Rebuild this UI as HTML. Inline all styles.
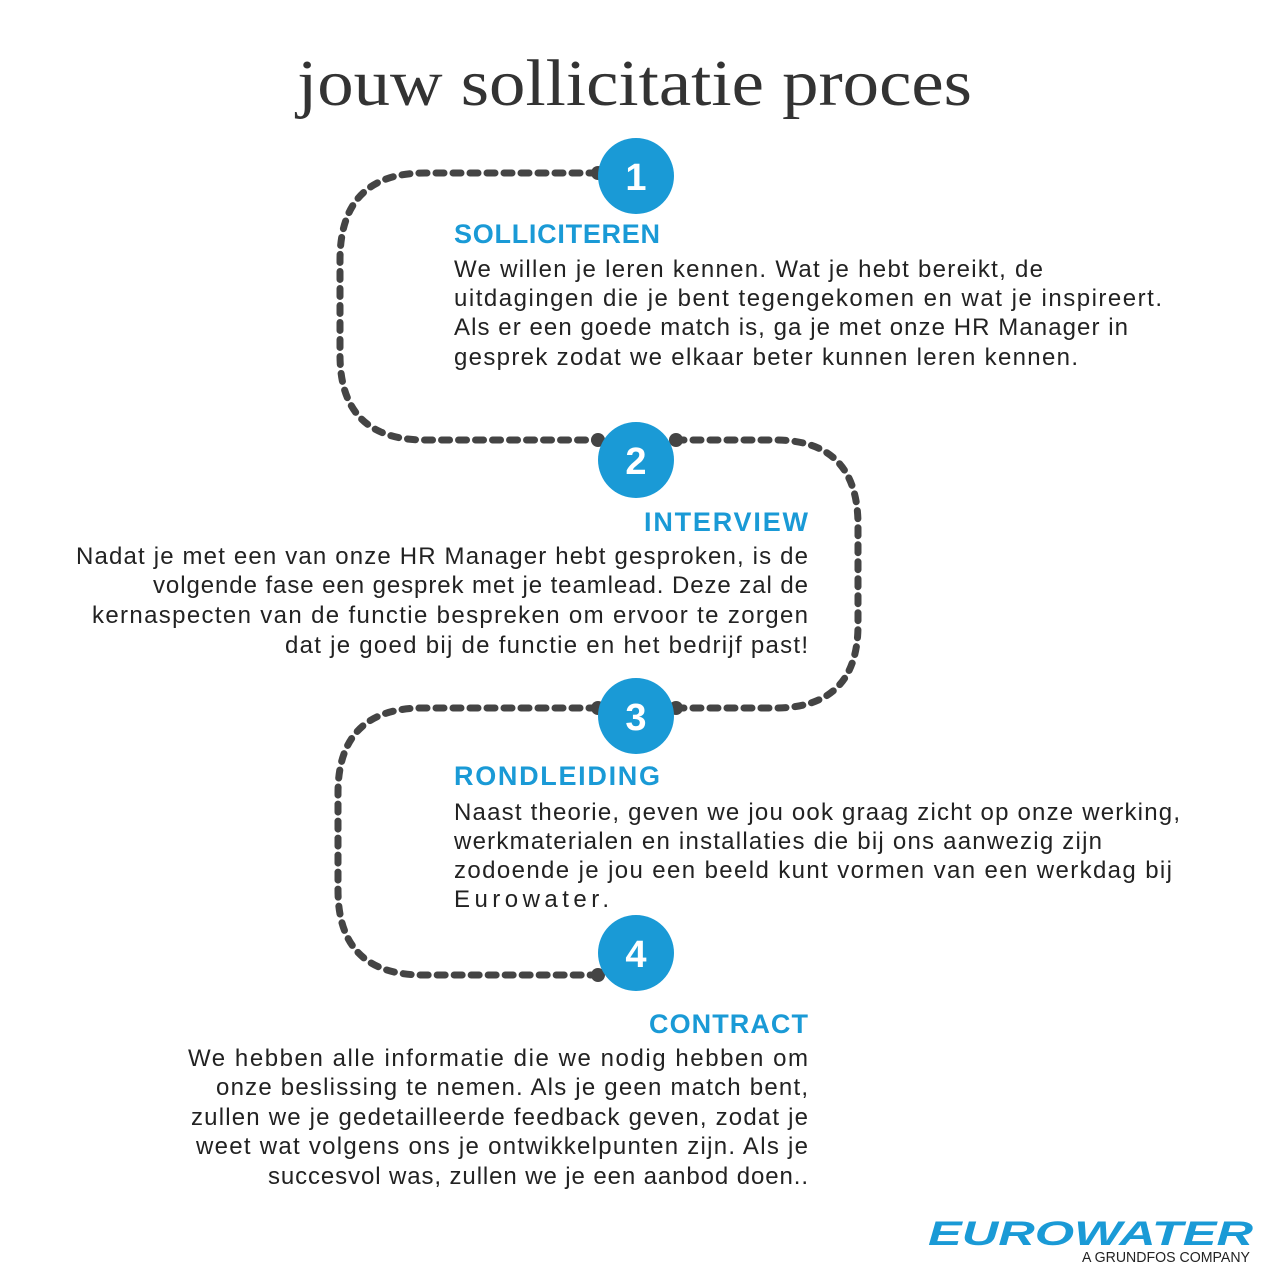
<!DOCTYPE html>
<html><head><meta charset="utf-8"><style>html,body{margin:0;padding:0;background:#fff}svg{display:block}</style></head>
<body>
<svg width="1272" height="1272" viewBox="0 0 1272 1272" xmlns="http://www.w3.org/2000/svg">
<rect width="1272" height="1272" fill="#fff"/>
<text x="297" y="105" font-family="Liberation Serif, serif" font-size="66" fill="#333" textLength="675" lengthAdjust="spacingAndGlyphs">jouw sollicitatie proces</text>
<g fill="none" stroke="#444" stroke-width="7" stroke-dasharray="8 9" stroke-linecap="round">
<path d="M597 173 H425 Q340 173 340 260 V355 Q340 440 425 440 H597"/>
<path d="M676 440 H775 Q858 440 858 525 V625 Q858 708 775 708 H676"/>
<path d="M597 708 H423 Q338 708 338 793 V890 Q338 975 423 975 H597"/>
</g>
<g fill="#444"><circle cx="598" cy="173" r="7"/><circle cx="598" cy="440" r="7"/><circle cx="676" cy="440" r="7"/><circle cx="676" cy="708" r="7"/><circle cx="598" cy="708" r="7"/><circle cx="598" cy="975" r="7"/></g>
<g fill="#1a9ad6"><circle cx="636" cy="176" r="38"/><circle cx="636" cy="460" r="38"/><circle cx="636" cy="716" r="38"/><circle cx="636" cy="953" r="38"/></g>
<g fill="#fff" font-family="Liberation Sans, sans-serif" font-weight="bold" font-size="38" text-anchor="middle">
<text x="636" y="190">1</text><text x="636" y="474">2</text><text x="636" y="730">3</text><text x="636" y="967">4</text></g>
<g fill="#1a9ad6" font-family="Liberation Sans, sans-serif" font-weight="bold" font-size="27" lengthAdjust="spacingAndGlyphs">
<text x="454" y="243" textLength="206">SOLLICITEREN</text>
<text x="808" y="531" text-anchor="end" textLength="164">INTERVIEW</text>
<text x="454" y="785" textLength="206">RONDLEIDING</text>
<text x="808" y="1033" text-anchor="end" textLength="159">CONTRACT</text>
</g>
<g fill="#222" font-family="Liberation Sans, sans-serif" font-size="24" lengthAdjust="spacingAndGlyphs">
<text x="454" y="277" textLength="589">We willen je leren kennen. Wat je hebt bereikt, de</text>
<text x="454" y="306" textLength="708">uitdagingen die je bent tegengekomen en wat je inspireert.</text>
<text x="454" y="335" textLength="674">Als er een goede match is, ga je met onze HR Manager in</text>
<text x="454" y="365" textLength="624">gesprek zodat we elkaar beter kunnen leren kennen.</text>
<text x="808" y="564" text-anchor="end" textLength="732">Nadat je met een van onze HR Manager hebt gesproken, is de</text>
<text x="808" y="593" text-anchor="end" textLength="655">volgende fase een gesprek met je teamlead. Deze zal de</text>
<text x="808" y="623" text-anchor="end" textLength="716">kernaspecten van de functie bespreken om ervoor te zorgen</text>
<text x="808" y="653" text-anchor="end" textLength="523">dat je goed bij de functie en het bedrijf past!</text>
<text x="454" y="820" textLength="726">Naast theorie, geven we jou ook graag zicht op onze werking,</text>
<text x="454" y="849" textLength="648">werkmaterialen en installaties die bij ons aanwezig zijn</text>
<text x="454" y="878" textLength="718">zodoende je jou een beeld kunt vormen van een werkdag bij</text>
<text x="454" y="907" textLength="155">Eurowater.</text>
<text x="808" y="1066" text-anchor="end" textLength="620">We hebben alle informatie die we nodig hebben om</text>
<text x="808" y="1095" text-anchor="end" textLength="592">onze beslissing te nemen. Als je geen match bent,</text>
<text x="808" y="1125" text-anchor="end" textLength="617">zullen we je gedetailleerde feedback geven, zodat je</text>
<text x="808" y="1154" text-anchor="end" textLength="612">weet wat volgens ons je ontwikkelpunten zijn. Als je</text>
<text x="808" y="1184" text-anchor="end" textLength="540">succesvol was, zullen we je een aanbod doen..</text>
</g>
<text x="928" y="1245" font-family="Liberation Sans, sans-serif" font-weight="bold" font-style="italic" font-size="34" fill="#1a9ad6" textLength="325" lengthAdjust="spacingAndGlyphs">EUROWATER</text>
<text x="1082" y="1262" font-family="Liberation Sans, sans-serif" font-size="15" fill="#222" textLength="168" lengthAdjust="spacingAndGlyphs">A GRUNDFOS COMPANY</text>
</svg>
</body></html>
